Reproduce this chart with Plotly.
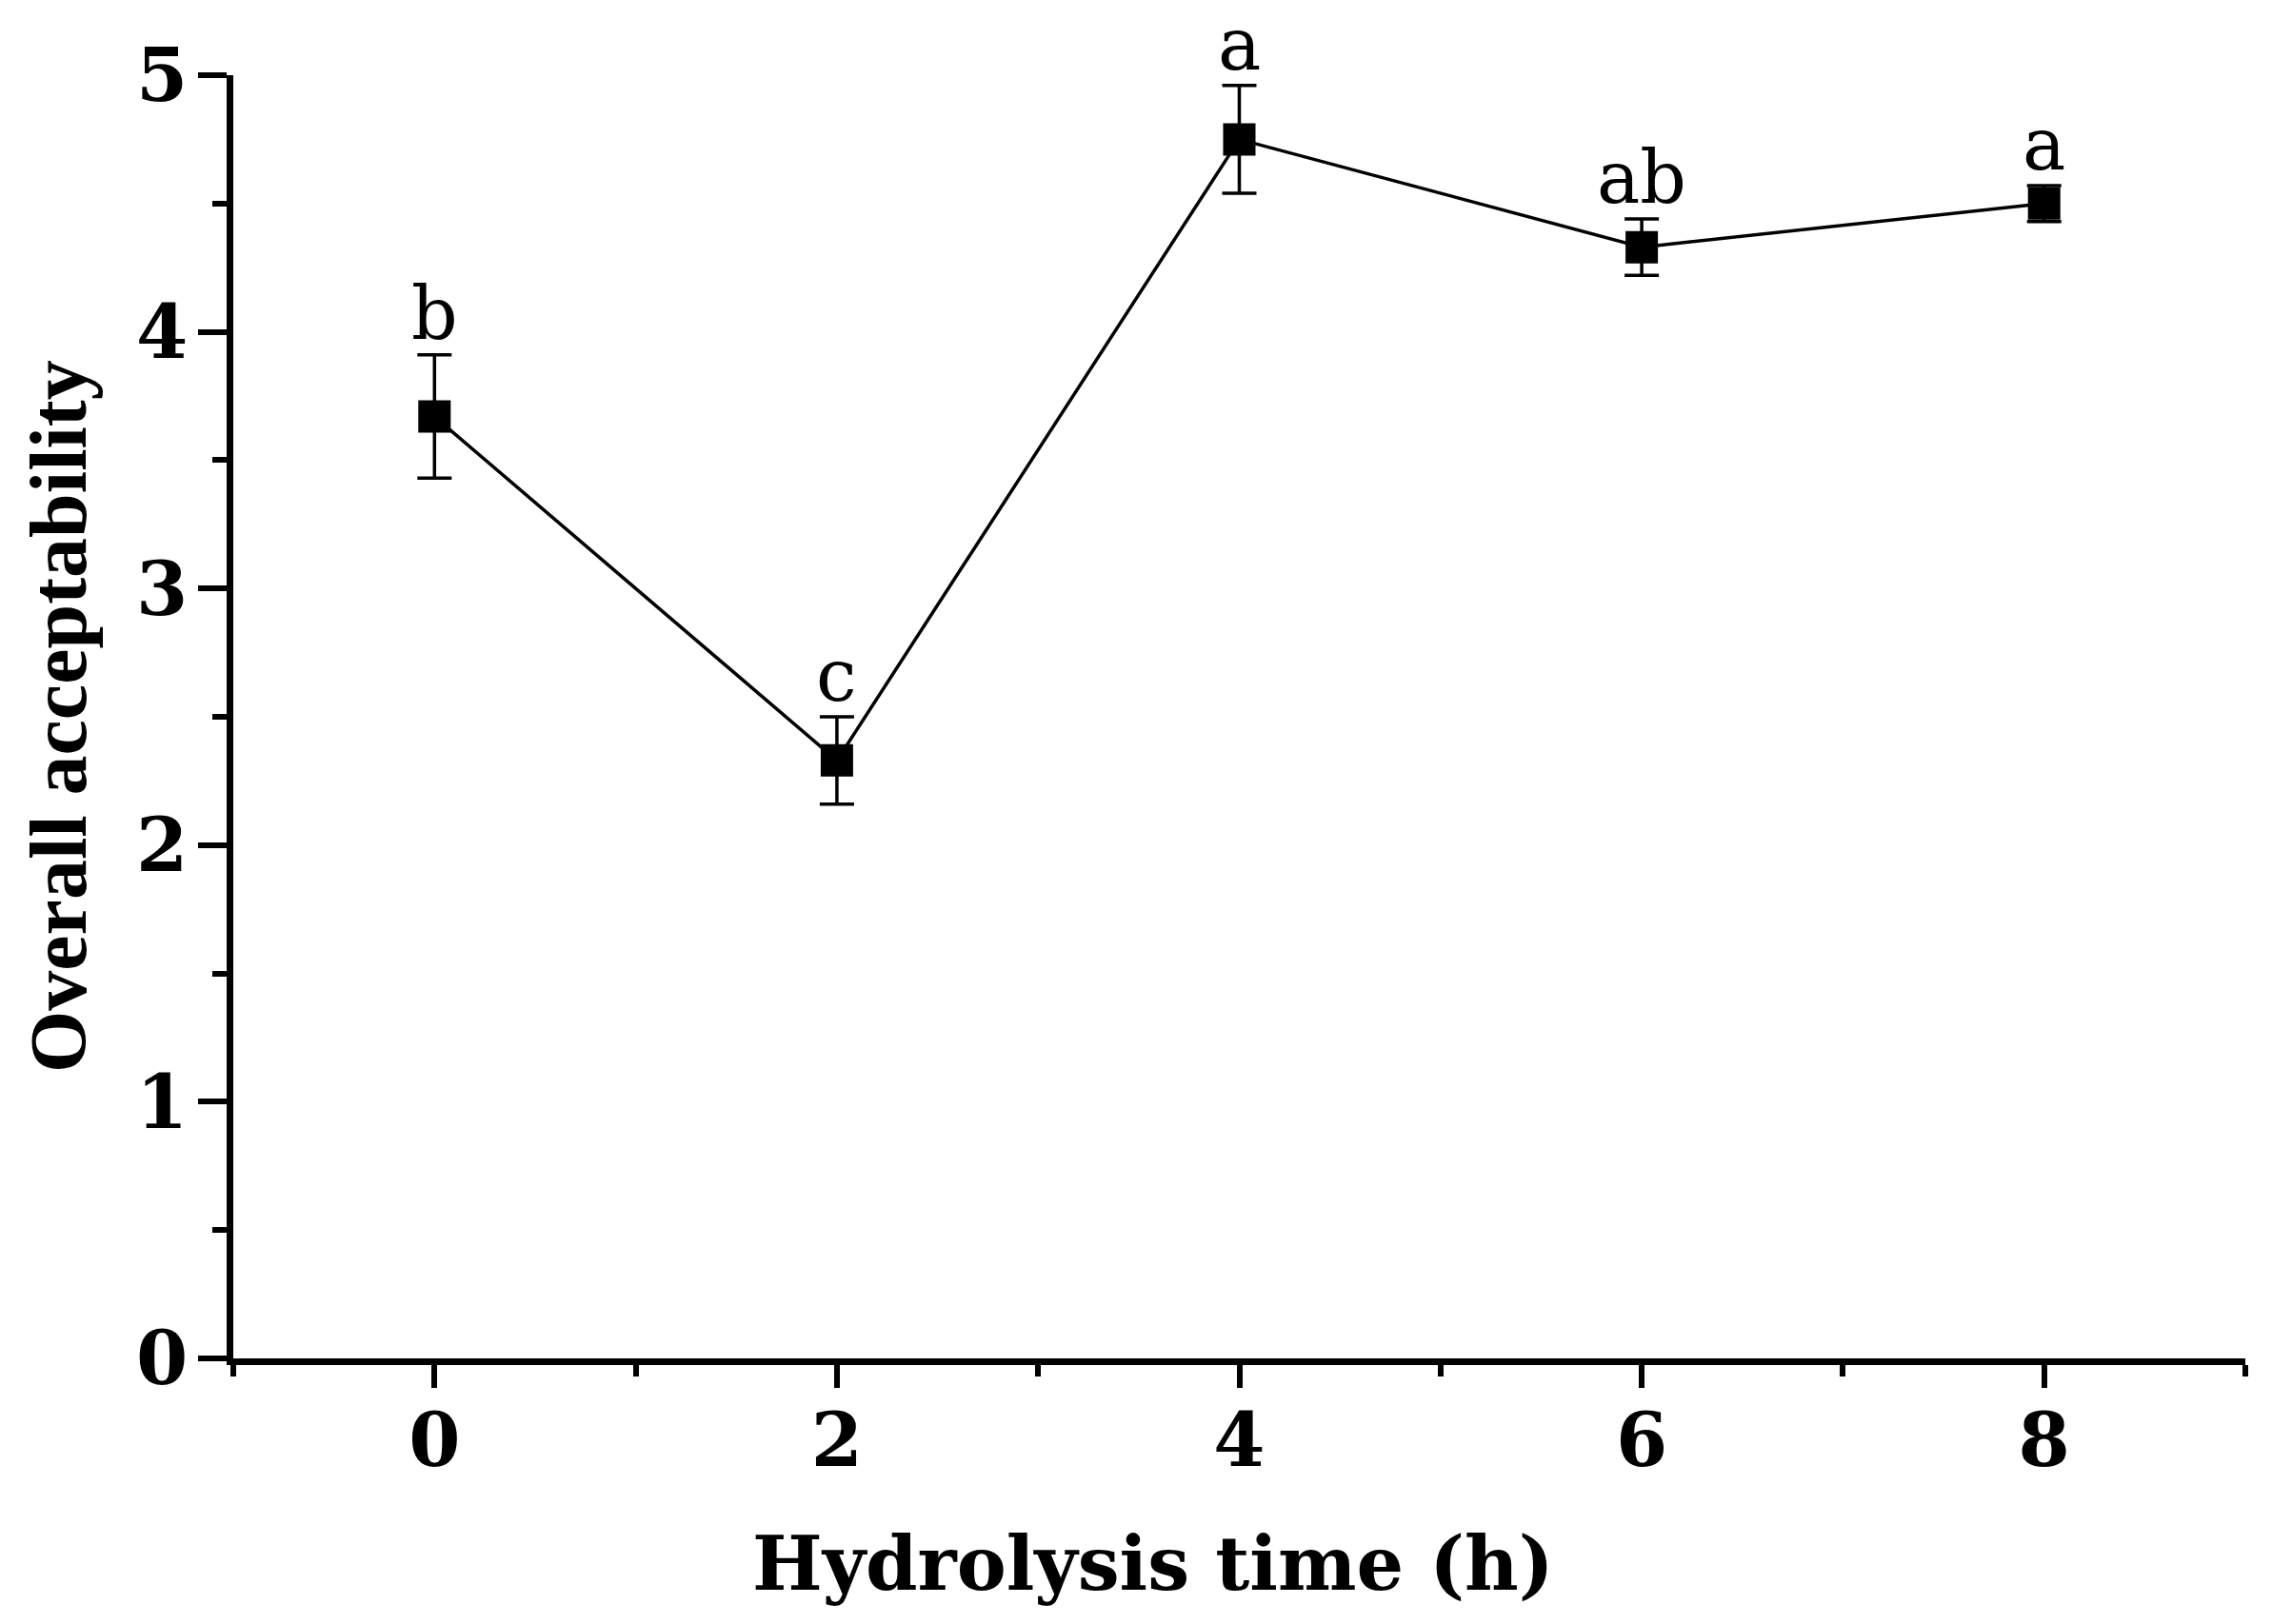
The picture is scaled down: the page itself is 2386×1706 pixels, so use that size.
import plotly.graph_objects as go

# Data
hydrolysis_time = [0, 2, 4, 6, 8]
acceptability = [3.67, 2.33, 4.75, 4.33, 4.50]
acceptability_sd = [0.24, 0.17, 0.21, 0.11, 0.07]
sig_letters = ["b", "c", "a", "ab", "a"]

x_ticks = [0, 2, 4, 6, 8]
y_ticks = [0, 1, 2, 3, 4, 5]

HFONT = "DejaVu Serif"
VFONT = "Liberation Serif, Times New Roman, serif"

fig = go.Figure()
fig.add_trace(go.Scatter(
    x=hydrolysis_time, y=acceptability,
    mode="lines+markers",
    line=dict(color="black", width=3.5),
    marker=dict(symbol="square", size=34, color="black", line=dict(width=0)),
    error_y=dict(type="data", array=acceptability_sd, visible=True,
                 color="black", thickness=3.5, width=18),
    showlegend=False,
))

annotations = []
for xv, yv, sv, lab in zip(hydrolysis_time, acceptability, acceptability_sd, sig_letters):
    annotations.append(dict(
        x=xv, y=yv + sv, xref="x", yref="y", text=lab, showarrow=False,
        xanchor="center", yanchor="bottom", yshift=-3,
        font=dict(family=HFONT, size=76, color="black"),
    ))

annotations.append(dict(
    x=0.4574, y=0, xref="paper", yref="paper", text="<b>Hydrolysis time (h)</b>",
    showarrow=False, xanchor="center", yanchor="middle", yshift=-215,
    font=dict(family=HFONT, size=78, color="black"),
))
annotations.append(dict(
    x=0, y=0.5, xref="paper", yref="paper", text="<b>Overall acceptability</b>",
    showarrow=False, xanchor="center", yanchor="middle", xshift=-184, textangle=-90,
    font=dict(family=VFONT, size=84, color="black"),
))

fig.update_layout(
    width=2386, height=1706, autosize=False,
    margin=dict(l=245, r=28, t=79, b=279, pad=0),
    paper_bgcolor="white", plot_bgcolor="white",
    showlegend=False,
    annotations=annotations,
    xaxis=dict(
        range=[-1, 9], tickmode="array", tickvals=x_ticks,
        ticktext=[f"<b>{t}</b>" for t in x_ticks],
        showline=True, linewidth=7, linecolor="black",
        ticks="outside", ticklen=24, tickwidth=6, tickcolor="black",
        minor=dict(dtick=1, tick0=-1, ticks="outside", ticklen=12, tickwidth=6,
                   tickcolor="black", showgrid=False),
        showgrid=False, zeroline=False,
        tickfont=dict(family=HFONT, size=78, color="black"),
        ticklabelstandoff=-12,
    ),
    yaxis=dict(
        range=[0, 5], tickmode="array", tickvals=y_ticks,
        ticktext=[f"<b>{t}</b>" for t in y_ticks],
        showline=True, linewidth=7, linecolor="black",
        ticks="outside", ticklen=30, tickwidth=6, tickcolor="black",
        minor=dict(dtick=0.5, tick0=0, ticks="outside", ticklen=15, tickwidth=6,
                   tickcolor="black", showgrid=False),
        showgrid=False, zeroline=False,
        tickfont=dict(family=HFONT, size=78, color="black"),
        ticklabelstandoff=-5,
    ),
)

fig.write_html("out.html", config={"displayModeBar": False})
